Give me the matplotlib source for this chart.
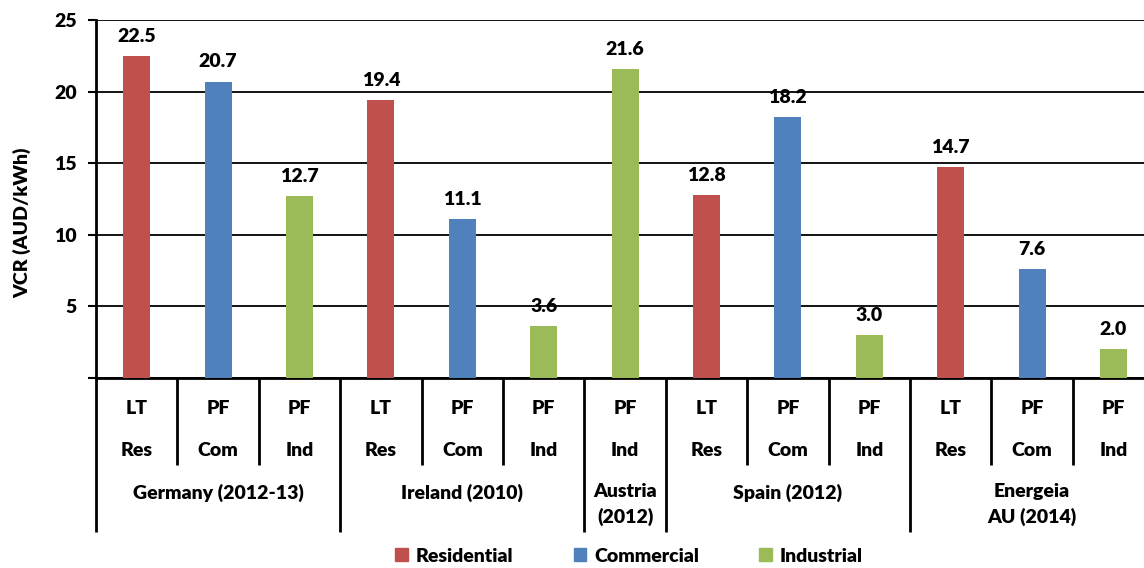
import matplotlib
matplotlib.use("Agg")
import matplotlib.pyplot as plt
from matplotlib.patches import Patch

# VCR by study and customer class
groups = ["Germany (2012-13)", "Ireland (2010)", "Austria\n(2012)", "Spain (2012)", "Energeia\nAU (2014)"]
group_sizes = [3, 3, 1, 3, 3]
methods = ["LT", "PF", "PF", "LT", "PF", "PF", "PF", "LT", "PF", "PF", "LT", "PF", "PF"]
sectors = ["Res", "Com", "Ind", "Res", "Com", "Ind", "Ind", "Res", "Com", "Ind", "Res", "Com", "Ind"]
values = [22.5, 20.7, 12.7, 19.4, 11.1, 3.6, 21.6, 12.8, 18.2, 3.0, 14.7, 7.6, 2.0]

colors = {"Res": "#C0504D", "Com": "#4F81BD", "Ind": "#9BBB59"}
legend_names = {"Res": "Residential", "Com": "Commercial", "Ind": "Industrial"}

plt.rcParams["font.family"] = ["Lato", "DejaVu Sans"]
plt.rcParams["font.weight"] = "heavy"
FS = 14

fig = plt.figure(figsize=(11.44, 5.68), dpi=100)
# axes runs a little past the right edge of the figure
ax = fig.add_axes([96 / 1144, 1 - 378 / 568, 13 * 81.4 / 1144, 358 / 568])

x = list(range(len(values)))
ax.bar(x, values, width=0.33, color=[colors[s] for s in sectors], zorder=3)
for xi, v in zip(x, values):
    ax.annotate(f"{v:.1f}", (xi, v), xytext=(0, 8), textcoords="offset points",
                ha="center", va="bottom", fontsize=FS)

ax.set_xlim(-0.5, len(values) - 0.5)
ax.set_ylim(0, 25)
ax.set_yticks([0, 5, 10, 15, 20, 25])
ax.set_yticklabels(["", "5", "10", "15", "20", "25"])
ax.tick_params(axis="y", length=6, width=1.5, pad=8, labelsize=FS)
ax.set_xticks([])
ax.grid(axis="y", color="black", linewidth=1.3, zorder=0)
for side in ["top", "right"]:
    ax.spines[side].set_visible(False)
ax.spines["left"].set_linewidth(2)
ax.spines["bottom"].set_linewidth(2)

fig.text(22 / 1144, 1 - 223 / 568, "VCR (AUD/kWh)", rotation=90, ha="center", va="center",
         fontsize=FS)

# multi-level category axis below the plot
tr = ax.get_xaxis_transform()
def ay(py):
    return (378 - py) / 358

for xi, (m, s) in enumerate(zip(methods, sectors)):
    ax.text(xi, ay(409), m, transform=tr, ha="center", va="center", fontsize=FS)
    ax.text(xi, ay(450), s, transform=tr, ha="center", va="center", fontsize=FS)

bounds = [0]
for n in group_sizes:
    bounds.append(bounds[-1] + n)

for b in range(len(values) + 1):
    bottom = 532 if b in bounds else 465
    ax.plot([b - 0.5, b - 0.5], [0, ay(bottom)], transform=tr, color="black",
            linewidth=2, clip_on=False, solid_capstyle="butt")

for g, start, n in zip(groups, bounds[:-1], group_sizes):
    xc = start + (n - 1) / 2
    if "\n" in g:
        ax.text(xc, ay(483), g, transform=tr, ha="center", va="top", fontsize=FS,
                linespacing=1.5)
    else:
        ax.text(xc, ay(493), g, transform=tr, ha="center", va="center", fontsize=FS)

handles = [Patch(color=colors[k], label=legend_names[k]) for k in ["Res", "Com", "Ind"]]
fig.legend(handles=handles, loc="center", bbox_to_anchor=(629 / 1144, 1 - 556 / 568), ncol=3,
           frameon=False, fontsize=FS, handlelength=0.65, handleheight=0.65,
           handletextpad=0.4, columnspacing=3.1)

fig.savefig("out.png", dpi=100)
